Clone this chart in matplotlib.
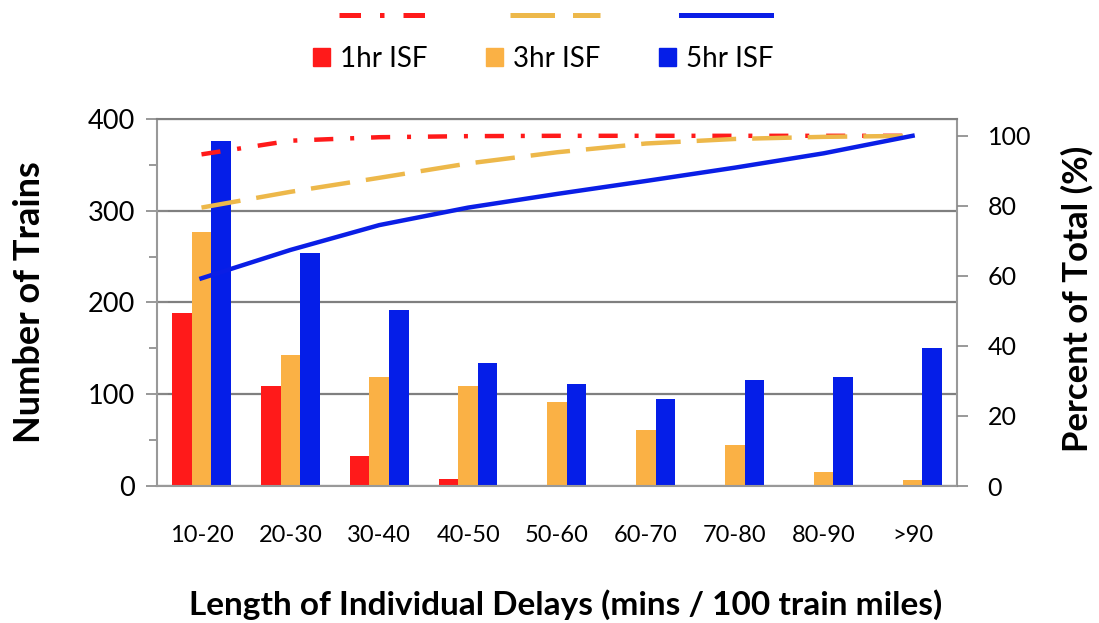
import numpy as np
import matplotlib.pyplot as plt
from matplotlib.lines import Line2D
from matplotlib.patches import Patch

plt.rcParams['font.family'] = ['Lato', 'DejaVu Sans']

categories = ['10-20', '20-30', '30-40', '40-50', '50-60', '60-70', '70-80', '80-90', '>90']
series = ['1hr ISF', '3hr ISF', '5hr ISF']

# number of trains per delay band
isf1 = [189, 109, 33, 8, 0, 0, 0, 0, 0]
isf3 = [277, 143, 119, 109, 92, 61, 45, 15, 7]
isf5 = [376, 254, 192, 134, 111, 95, 116, 119, 150]

# cumulative percent of total
pct1 = [94.7, 98.6, 99.6, 99.9, 100, 100, 100, 100, 100]
pct3 = [79.5, 84.0, 88.0, 92.1, 95.3, 97.8, 99.1, 99.7, 100]
pct5 = [59.3, 67.4, 74.5, 79.5, 83.4, 87.1, 90.9, 95.0, 100]

bar_colors = ['#ff1a1a', '#fab145', '#051ee8']
line_colors = ['#ff1a1a', '#edb84a', '#0a1ee6']
line_styles = [(0, (4.3, 3.8, 0.9, 3.8)), (0, (8.9, 3.6)), '-']

fig = plt.figure(figsize=(10.99, 6.23), dpi=100)
ax = fig.add_axes([0.1429, 0.2199, 0.7279, 0.5891])
ax2 = ax.twinx()

x = np.arange(len(categories))
w = 0.22
for i, vals in enumerate([isf1, isf3, isf5]):
    ax.bar(x + (i - 1) * w, vals, width=w, color=bar_colors[i], zorder=2)

ax.set_xlim(-0.5, len(categories) - 0.5)
ax.set_ylim(0, 400)
ax.set_yticks([0, 100, 200, 300, 400])
ax.set_yticks([50, 150, 250, 350], minor=True)
ax.set_xticks(x)
ax.set_xticklabels(categories, fontsize=17)
ax.tick_params(axis='x', length=0, pad=28)
ax.tick_params(axis='y', which='major', direction='inout', length=16, width=1.2,
               color='#888888', labelsize=19.5, pad=8)
ax.tick_params(axis='y', which='minor', direction='out', length=6, width=1.2,
               color='#888888')
ax.grid(axis='y', color='#7f7f7f', linewidth=1.6, zorder=0)
ax.set_axisbelow(True)
for s in ['left', 'right', 'top', 'bottom']:
    ax.spines[s].set_color('#999999')
    ax.spines[s].set_linewidth(1.5)
ax.spines['top'].set_color('#808080')

for vals, c, ls in zip([pct1, pct3, pct5], line_colors, line_styles):
    ax2.plot(x, vals, color=c, linestyle=ls, linewidth=3.2)
ax2.set_ylim(0, 104.8)
ax2.set_yticks([0, 20, 40, 60, 80, 100])
ax2.tick_params(axis='y', direction='out', length=8, width=1.2, color='#888888',
                labelsize=18, pad=14)
for s in ['left', 'right', 'top', 'bottom']:
    ax2.spines[s].set_visible(False)

ax.set_ylabel('Number of Trains', fontsize=26, fontweight='bold', va='center')
ax.yaxis.set_label_coords(-0.159, 0.5)
ax2.set_ylabel('Percent of Total (%)', fontsize=25, fontweight='bold', va='center')
ax2.yaxis.set_label_coords(1.15, 0.51)
ax.set_xlabel('Length of Individual Delays (mins / 100 train miles)', fontsize=24,
              fontweight='bold', va='center')
ax.xaxis.set_label_coords(0.511, -0.322)

line_handles = [Line2D([], [], color=c, linestyle=ls, linewidth=3.6)
                for c, ls in zip(line_colors, line_styles)]
fig.legend(line_handles, ['', '', ''], ncol=3, loc='center',
           bbox_to_anchor=(0.505, 0.973), frameon=False, fontsize=20,
           handlelength=3.25, handletextpad=0, columnspacing=2.9)
patch_handles = [Patch(color=c) for c in bar_colors]
fig.legend(patch_handles, series, ncol=3, loc='center',
           bbox_to_anchor=(0.494, 0.905), frameon=False, fontsize=20,
           handlelength=0.62, handleheight=0.62, handletextpad=0.36,
           columnspacing=2.1)

fig.savefig('out.png', dpi=100)
